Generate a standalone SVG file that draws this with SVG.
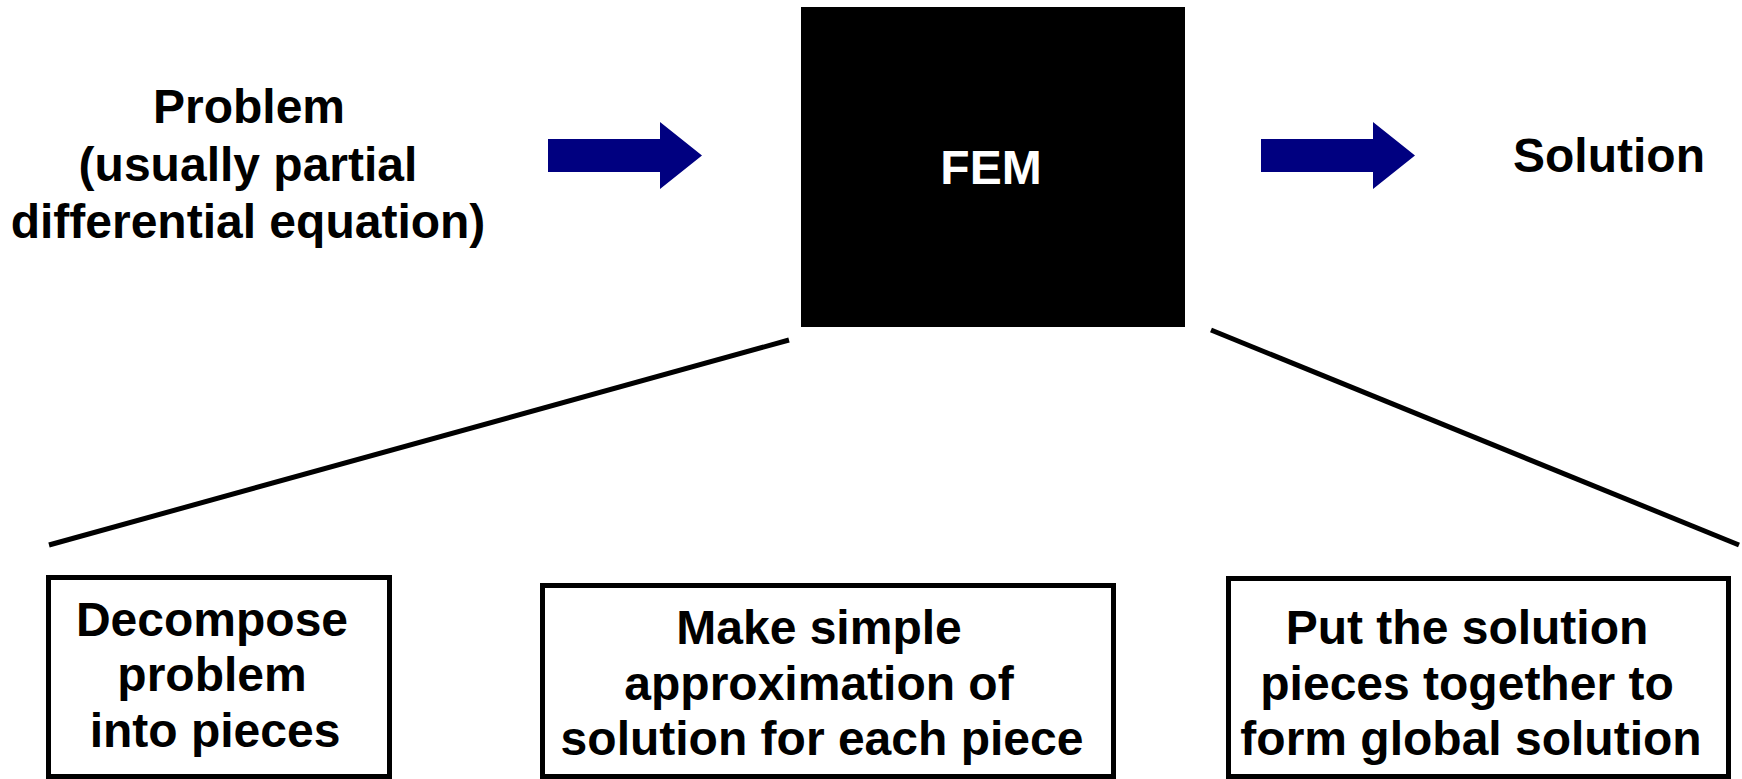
<svg xmlns="http://www.w3.org/2000/svg" width="1742" height="779" viewBox="0 0 1742 779">
<style>
.t{font-family:"Liberation Sans",Arial,sans-serif;font-weight:bold;font-size:48px;fill:#000;text-anchor:middle}
.w{fill:#fff}
.box{fill:#fff;stroke:#000;stroke-width:5}
.arr{fill:#000080}
.ln{stroke:#000;stroke-width:5;fill:none}
</style>
<defs>
<path id="arrowShape" d="M0,139 H112 V122 L154,155.5 L112,189 V172 H0 Z"/>
</defs>
<g id="problem">
<text class="t" x="249" y="123">Problem</text>
<text class="t" x="248" y="181">(usually partial</text>
<text class="t" x="248" y="238">differential equation)</text>
</g>
<g id="fem">
<rect x="801" y="7" width="384" height="320" fill="#000"/>
<text class="t w" x="991" y="184">FEM</text>
</g>
<g id="solution">
<text class="t" x="1609" y="172">Solution</text>
</g>
<g id="decompose">
<rect class="box" x="48.5" y="577.5" width="341" height="199"/>
<text class="t" x="212" y="636">Decompose</text>
<text class="t" x="212" y="691">problem</text>
<text class="t" x="215" y="747">into pieces</text>
</g>
<g id="approximate">
<rect class="box" x="542.5" y="585.5" width="571" height="191"/>
<text class="t" x="819" y="644">Make simple</text>
<text class="t" x="819" y="700">approximation of</text>
<text class="t" x="822" y="755">solution for each piece</text>
</g>
<g id="assemble">
<rect class="box" x="1228.5" y="578.5" width="500" height="198"/>
<text class="t" x="1467" y="644">Put the solution</text>
<text class="t" x="1467" y="700">pieces together to</text>
<text class="t" x="1471" y="755">form global solution</text>
</g>
<g id="connectors">
<use href="#arrowShape" class="arr" x="548"/>
<use href="#arrowShape" class="arr" x="1261"/>
<line class="ln" x1="49" y1="545" x2="789" y2="340"/>
<line class="ln" x1="1211" y1="330" x2="1739" y2="545"/>
</g>
</svg>
